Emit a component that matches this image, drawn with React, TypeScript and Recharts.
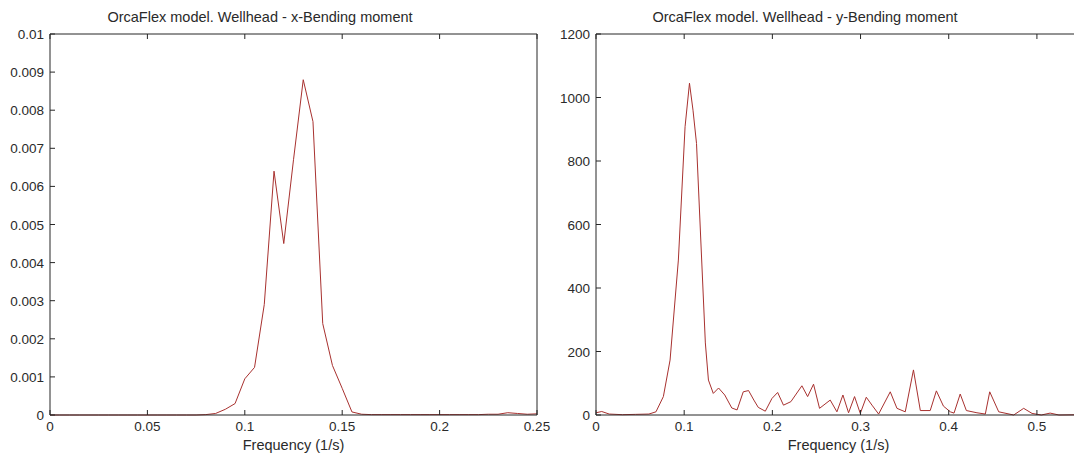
import { LineChart, Line, XAxis, YAxis } from 'recharts';

// x-bending moment spectrum (left plot)
const xFreq = [
  0, 0.005, 0.01, 0.015, 0.02, 0.025, 0.03, 0.035, 0.04, 0.045,
  0.05, 0.055, 0.06, 0.065, 0.07, 0.075, 0.08, 0.085, 0.09, 0.095,
  0.1, 0.105, 0.11, 0.115, 0.12, 0.125, 0.13, 0.135, 0.14, 0.145,
  0.15, 0.155, 0.16, 0.165, 0.17, 0.175, 0.18, 0.185, 0.19, 0.195,
  0.2, 0.205, 0.21, 0.215, 0.22, 0.225, 0.23, 0.235, 0.24, 0.245, 0.25,
];
const xMoment = [
  0, 0, 0, 0, 0, 0, 0, 0, 0, 0,
  0, 0, 0, 0, 0, 0, 0.00001, 0.00004, 0.00015, 0.0003,
  0.00095, 0.00125, 0.0029, 0.0064, 0.0045, 0.0067, 0.0088, 0.0077, 0.0024, 0.0013,
  0.0007, 0.00008, 0.00002, 0.00001, 0.00001, 0.00001, 0.00001, 0.00001, 0.00001, 0.00001,
  0.00001, 0.00001, 0.00001, 0.00001, 0.00001, 0.00002, 0.00002, 0.00006, 0.00004, 0.00002, 0.00003,
];

// y-bending moment spectrum (right plot)
const yFreq = [
  0, 0.0065, 0.015, 0.03, 0.045, 0.06, 0.068, 0.0764, 0.084, 0.0934,
  0.101, 0.106, 0.11, 0.114, 0.124, 0.1275, 0.133, 0.139, 0.146, 0.154,
  0.16, 0.167, 0.173, 0.179, 0.184, 0.192, 0.1995, 0.206, 0.2126, 0.221,
  0.2335, 0.24, 0.2467, 0.2535, 0.2656, 0.2732, 0.28, 0.2864, 0.2932, 0.2997,
  0.3065, 0.313, 0.3205, 0.3337, 0.3413, 0.3507, 0.36, 0.3678, 0.379, 0.386,
  0.394, 0.4018, 0.406, 0.413, 0.42, 0.432, 0.4415, 0.4465, 0.4567, 0.4737,
  0.485, 0.4945, 0.505, 0.515, 0.525, 0.55,
];
const yMoment = [
  7, 11, 3, 1, 2, 3, 10, 58, 173, 488,
  908, 1045, 960, 855, 227, 110, 68, 85, 63, 22,
  16, 73, 77, 47, 24, 12, 52, 71, 31, 42,
  92, 58, 97, 21, 47, 10, 63, 7, 58, 5,
  56, 31, 3, 73, 21, 10, 142, 14, 14, 76,
  28, 10, 6, 66, 14, 7, 3, 73, 10, 0,
  21, 5, 0, 6, 0, 1,
];

const xTicksLeft = [0, 0.05, 0.1, 0.15, 0.2, 0.25];
const yTicksLeft = [0, 0.001, 0.002, 0.003, 0.004, 0.005, 0.006, 0.007, 0.008, 0.009, 0.01];
const xTicksRight = [0, 0.1, 0.2, 0.3, 0.4, 0.5];
const yTicksRight = [0, 200, 400, 600, 800, 1000, 1200];

const titles = [
  'OrcaFlex model. Wellhead - x-Bending moment',
  'OrcaFlex model. Wellhead - y-Bending moment',
];
const xLabel = 'Frequency (1/s)';

const FONT = '"Liberation Sans", Arial, sans-serif';
const LINE = '#a8312f';
const AXIS = '#262626';
const TEXT = '#2a2a2a';
const TICK_LEN = 5;
const TICK_FONT = 13.5;

// matlab-like ticks: tick marks point into the plot box
function BottomTick({ x, y, payload }: any) {
  return (
    <g>
      <line x1={x} x2={x} y1={y} y2={y - TICK_LEN} stroke={AXIS} />
      <text x={x} y={y + 16} textAnchor="middle" fill={TEXT} fontSize={TICK_FONT} fontFamily={FONT}>
        {String(payload.value)}
      </text>
    </g>
  );
}

function LeftTick({ x, y, payload }: any) {
  return (
    <g>
      <line x1={x} x2={x + TICK_LEN} y1={y} y2={y} stroke={AXIS} />
      <text x={x - 6} y={y + 5} textAnchor="end" fill={TEXT} fontSize={TICK_FONT} fontFamily={FONT}>
        {String(payload.value)}
      </text>
    </g>
  );
}

function TopTick({ x, y }: any) {
  return <line x1={x} x2={x} y1={y} y2={y + TICK_LEN} stroke={AXIS} />;
}

function RightTick({ x, y }: any) {
  return <line x1={x} x2={x - TICK_LEN} y1={y} y2={y} stroke={AXIS} />;
}

interface PanelProps {
  data: { f: number; v: number }[];
  xDomain: [number, number];
  yDomain: [number, number];
  xTicks: number[];
  yTicks: number[];
  width: number;
  leftWidth: number;
  rightPad: number;
}

function Panel({ data, xDomain, yDomain, xTicks, yTicks, width, leftWidth, rightPad }: PanelProps) {
  return (
    <LineChart width={width} height={459} data={data} margin={{ top: 0, right: rightPad, bottom: 0, left: 0 }}>
      <XAxis
        xAxisId="b"
        dataKey="f"
        type="number"
        domain={xDomain}
        ticks={xTicks}
        allowDataOverflow
        interval={0}
        height={44}
        stroke={AXIS}
        tickLine={false}
        tickSize={0}
        tickMargin={0}
        tick={BottomTick}
        label={{ value: xLabel, position: 'insideBottom', offset: 9, fill: TEXT, fontSize: 14.5, fontFamily: FONT }}
      />
      <XAxis
        xAxisId="t"
        orientation="top"
        dataKey="f"
        type="number"
        domain={xDomain}
        ticks={xTicks}
        allowDataOverflow
        interval={0}
        height={34}
        stroke={AXIS}
        tickLine={false}
        tickSize={0}
        tickMargin={0}
        tick={TopTick}
      />
      <YAxis
        yAxisId="l"
        type="number"
        domain={yDomain}
        ticks={yTicks}
        interval={0}
        width={leftWidth}
        stroke={AXIS}
        tickLine={false}
        tickSize={0}
        tickMargin={0}
        tick={LeftTick}
      />
      <YAxis
        yAxisId="r"
        orientation="right"
        type="number"
        domain={yDomain}
        ticks={yTicks}
        interval={0}
        width={3}
        stroke={AXIS}
        tickLine={false}
        tickSize={0}
        tickMargin={0}
        tick={RightTick}
      />
      <Line
        xAxisId="b"
        yAxisId="l"
        dataKey="v"
        type="linear"
        stroke={LINE}
        strokeWidth={1}
        dot={false}
        isAnimationActive={false}
      />
    </LineChart>
  );
}

export default function App() {
  const leftData = xFreq.map((f, i) => ({ f, v: xMoment[i] }));
  const rightData = yFreq.map((f, i) => ({ f, v: yMoment[i] }));

  const titleStyle = {
    position: 'absolute' as const,
    top: 9,
    fontSize: 14.5,
    fontFamily: FONT,
    color: TEXT,
    whiteSpace: 'nowrap' as const,
    transform: 'translateX(-50%)',
  };

  return (
    <div style={{ position: 'absolute', left: 0, top: 0, width: 1074, height: 459, overflow: 'hidden', background: '#fff' }}>
      <div style={{ position: 'absolute', left: 0, top: 0 }}>
        <Panel data={leftData} xDomain={[0, 0.25]} yDomain={[0, 0.01]} xTicks={xTicksLeft} yTicks={yTicksLeft} width={560} leftWidth={50} rightPad={20} />
      </div>
      <div style={{ position: 'absolute', left: 540, top: 0 }}>
        <Panel data={rightData} xDomain={[0, 0.55]} yDomain={[0, 1200]} xTicks={xTicksRight} yTicks={yTicksRight} width={544} leftWidth={56} rightPad={0} />
      </div>
      <div style={{ ...titleStyle, left: 260 }}>{titles[0]}</div>
      <div style={{ ...titleStyle, left: 805 }}>{titles[1]}</div>
    </div>
  );
}
